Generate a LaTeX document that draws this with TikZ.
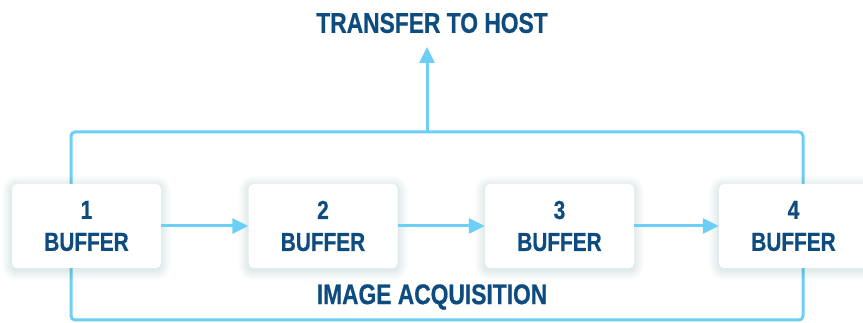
\documentclass[tikz,border=0pt]{standalone}
\usepackage{fontspec}
\setmainfont[FakeStretch=0.8,FakeBold=0.6]{Liberation Sans}
\usetikzlibrary{arrows.meta}
\definecolor{txtblue}{HTML}{0E4C80}
\definecolor{lineblue}{HTML}{6CCFF5}
\definecolor{shadowc}{HTML}{3A5C80}
\begin{document}
\begin{tikzpicture}[x=1pt,y=-1pt,
  lbl/.style={font=\fontsize{28.5}{32}\selectfont\bfseries, text=txtblue, inner sep=0pt},
  bufbox/.style={fill=white, rounded corners=5pt, minimum width=149pt, minimum height=84pt,
    font=\fontsize{26}{32}\selectfont\bfseries, text=txtblue, align=center, inner sep=0pt},
  conn/.style={draw=lineblue, line width=3pt},
  arr/.style={conn, -{Triangle[length=16pt,width=15pt]}}]
\useasboundingbox (0,0) rectangle (863,323);
\fill[white] (0,0) rectangle (863,323);
% frame
\coordinate (tl) at (71,132);
\coordinate (tr) at (803,132);
\coordinate (bl) at (71,320);
\coordinate (br) at (803,320);
\coordinate (up) at (427,132);
\draw[conn, rounded corners=4pt] (tl) -- (tr) -- (br) -- (bl) -- cycle;
\node[lbl] (host) at (432,23) {TRANSFER TO HOST};
\coordinate (tip) at (427,47);
\draw[arr] (up) -- (tip);
\node[lbl] (acq) at (432,297) {IMAGE ACQUISITION};
% soft shadows
\foreach \cx in {86.5,323,559.5,793.5}{
  \foreach \r in {1,...,10}{
    \fill[shadowc, opacity=0.012, rounded corners=5pt+\r pt]
      (\cx-74.5-\r, 184-\r+2) rectangle (\cx+74.5+\r, 268+\r+2);
  }
}
% boxes
\node[bufbox] (b1) at (86.5,226) {1\\BUFFER};
\node[bufbox] (b2) at (323,226) {2\\BUFFER};
\node[bufbox] (b3) at (559.5,226) {3\\BUFFER};
\node[bufbox] (b4) at (793.5,226) {4\\BUFFER};
\draw[arr] (b1) -- (b2);
\draw[arr] (b2) -- (b3);
\draw[arr] (b3) -- (b4);
\end{tikzpicture}
\end{document}
